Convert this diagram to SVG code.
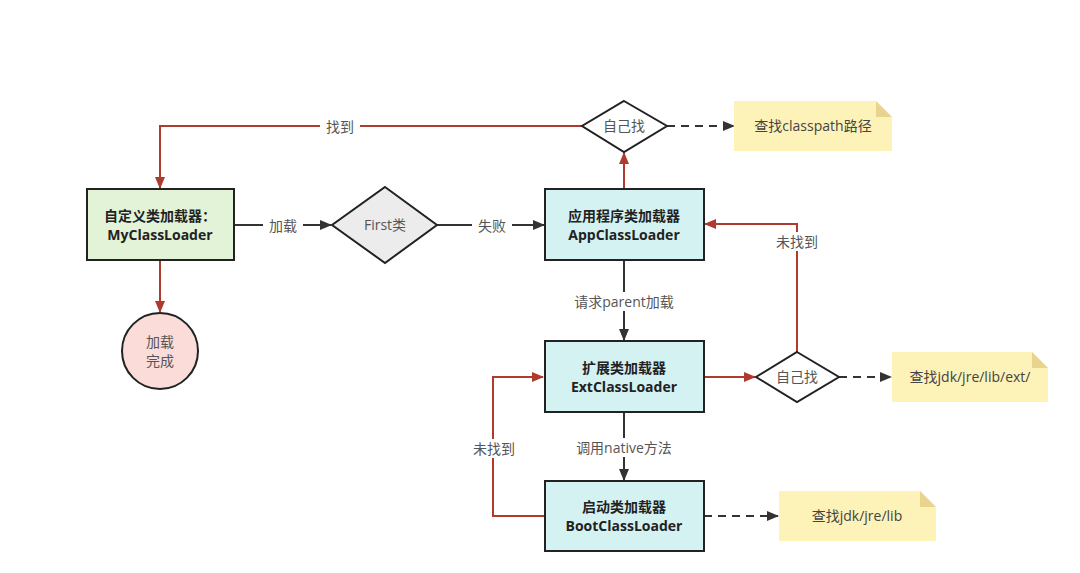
<svg xmlns="http://www.w3.org/2000/svg" width="1080" height="573" viewBox="0 0 1080 573">
<defs>
<marker id="ar" viewBox="0 0 12 10" refX="11" refY="5" markerWidth="12" markerHeight="10" markerUnits="userSpaceOnUse" orient="auto"><path d="M0,0 L12,5 L0,10 Z" fill="#ae3b2e"/></marker>
<marker id="ak" viewBox="0 0 12 10" refX="11" refY="5" markerWidth="12" markerHeight="10" markerUnits="userSpaceOnUse" orient="auto"><path d="M0,0 L12,5 L0,10 Z" fill="#333"/></marker>
</defs>
<style>
text{font-family:"Open Sans","Noto Sans CJK SC",sans-serif;}
.box{stroke:#222;stroke-width:2;}
.nt{font-size:14px;font-weight:bold;fill:#222;text-anchor:middle;}
.lb{font-size:14px;fill:#555;text-anchor:middle;}
.red{stroke:#ae3b2e;stroke-width:2;fill:none;}
.blk{stroke:#333;stroke-width:2;fill:none;}
.dash{stroke:#333;stroke-width:2;fill:none;stroke-dasharray:8 6;}
.bg{fill:#fff;}
.note{fill:#fdf2b8;}
.fold{fill:#e8d48e;}
</style>
<rect width="1080" height="573" fill="#fff"/>
<g id="connectors">
<path class="red" d="M582,126 H160 V188" marker-end="url(#ar)"/>
<rect class="bg" x="320" y="117" width="40" height="19"/>
<text class="lb" x="340" y="132">找到</text>
<path class="red" d="M160,260 V312" marker-end="url(#ar)"/>
<path class="blk" d="M234,225 H331" marker-end="url(#ak)"/>
<rect class="bg" x="263" y="216" width="40" height="19"/>
<text class="lb" x="283" y="231">加载</text>
<path class="blk" d="M437,225 H544" marker-end="url(#ak)"/>
<rect class="bg" x="472" y="216" width="40" height="19"/>
<text class="lb" x="492" y="231">失败</text>
<path class="red" d="M624,189 V153" marker-end="url(#ar)"/>
<path class="dash" d="M667,126 H734" marker-end="url(#ak)"/>
<path class="blk" d="M624,260 V340" marker-end="url(#ak)"/>
<rect class="bg" x="570" y="292" width="108" height="19"/>
<text class="lb" x="624" y="307">请求parent加载</text>
<path class="blk" d="M624,412 V480" marker-end="url(#ak)"/>
<rect class="bg" x="570" y="438" width="108" height="19"/>
<text class="lb" x="624" y="453">调用native方法</text>
<path class="red" d="M544,516 H493 V377 H543" marker-end="url(#ar)"/>
<rect class="bg" x="470" y="439" width="48" height="19"/>
<text class="lb" x="494" y="454">未找到</text>
<path class="red" d="M704,377 H755" marker-end="url(#ar)"/>
<path class="red" d="M797,352 V224 H705" marker-end="url(#ar)"/>
<rect class="bg" x="773" y="232" width="48" height="19"/>
<text class="lb" x="797" y="247">未找到</text>
<path class="dash" d="M839,377 H891" marker-end="url(#ak)"/>
<path class="dash" d="M704,516 H778" marker-end="url(#ak)"/>
</g>
<g id="myclassloader">
<rect class="box" x="87" y="189" width="147" height="71" fill="#e2f3d8"/>
<text class="nt" x="160" y="221">自定义类加载器：</text>
<text class="nt" x="160" y="240">MyClassLoader</text>
</g>
<g id="done">
<circle cx="160" cy="351" r="38" fill="#fbdcd8" stroke="#222" stroke-width="2"/>
<text class="lb" x="160" y="347">加载</text>
<text class="lb" x="160" y="366">完成</text>
</g>
<g id="first">
<polygon points="385,187 437,225 385,263 332,225" fill="#ececec" stroke="#222" stroke-width="2"/>
<text class="lb" x="385" y="230">First类</text>
</g>
<g id="appclassloader">
<rect class="box" x="545" y="189" width="159" height="71" fill="#d5f2f3"/>
<text class="nt" x="624" y="221">应用程序类加载器</text>
<text class="nt" x="624" y="240">AppClassLoader</text>
</g>
<g id="self1">
<polygon points="624,101 667,126 624,152 582,126" fill="#fff" stroke="#222" stroke-width="2"/>
<text class="lb" x="624" y="131">自己找</text>
</g>
<g id="note1">
<path class="note" d="M734,101 H876 L892,117 V151 H734 Z"/>
<path class="fold" d="M876,101 L892,117 H876 Z"/>
<text class="lb" x="813" y="131" style="fill:#444">查找classpath路径</text>
</g>
<g id="extclassloader">
<rect class="box" x="545" y="341" width="159" height="71" fill="#d5f2f3"/>
<text class="nt" x="624" y="373">扩展类加载器</text>
<text class="nt" x="624" y="392">ExtClassLoader</text>
</g>
<g id="self2">
<polygon points="797,352 839,377 797,402 756,377" fill="#fff" stroke="#222" stroke-width="2"/>
<text class="lb" x="797" y="382">自己找</text>
</g>
<g id="note2">
<path class="note" d="M892,352 H1032 L1048,368 V402 H892 Z"/>
<path class="fold" d="M1032,352 L1048,368 H1032 Z"/>
<text class="lb" x="970" y="382" style="fill:#444">查找jdk/jre/lib/ext/</text>
</g>
<g id="bootclassloader">
<rect class="box" x="545" y="481" width="159" height="70" fill="#d5f2f3"/>
<text class="nt" x="624" y="512">启动类加载器</text>
<text class="nt" x="624" y="531">BootClassLoader</text>
</g>
<g id="note3">
<path class="note" d="M779,491 H920 L936,507 V541 H779 Z"/>
<path class="fold" d="M920,491 L936,507 H920 Z"/>
<text class="lb" x="857" y="521" style="fill:#444">查找jdk/jre/lib</text>
</g>
</svg>
